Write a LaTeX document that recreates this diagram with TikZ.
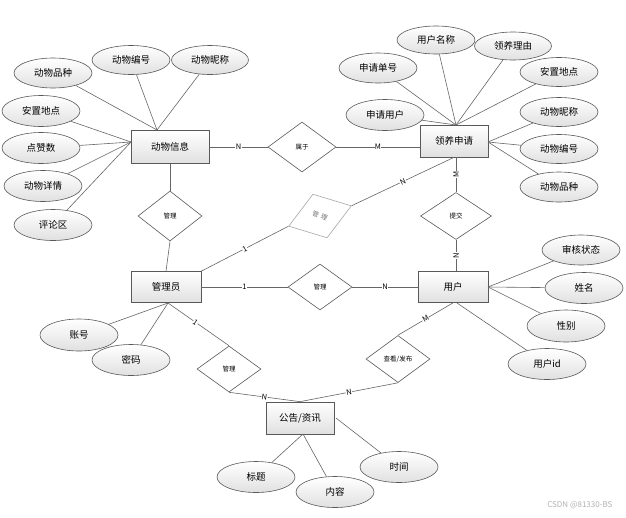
\documentclass[tikz,border=0pt]{standalone}
\usepackage{fontspec}
\setmainfont{Noto Sans CJK SC}
\usetikzlibrary{shapes.geometric}
\tikzset{
 ent/.style={draw=black!65, line width=0.7pt, top color=white, bottom color=black!12, minimum width=70pt, minimum height=32pt, inner sep=0pt, font=\fontsize{9.5}{11}\selectfont},
 attr/.style={ellipse, draw=black!65, line width=0.6pt, top color=white, bottom color=black!12, minimum width=78pt, minimum height=30pt, inner sep=0pt, font=\fontsize{9.5}{11}\selectfont},
 rel/.style={diamond, draw=black!65, line width=0.6pt, fill=white, minimum width=64pt, minimum height=47pt, inner sep=0pt, font=\fontsize{6.5}{7}\selectfont},
 ln/.style={draw=black!60, line width=0.6pt},
 card/.style={fill=white, inner sep=0.4pt, font=\fontsize{7.5}{8}\selectfont},
}
\begin{document}
\begin{tikzpicture}[x=1pt,y=-1pt]
\useasboundingbox[fill=white] (0,0) rectangle (626,517);

% entities
\node[ent, minimum width=78pt, minimum height=33pt] (ai) at (170,147) {动物信息};
\node[ent, minimum width=68pt] (ly) at (454,141) {领养申请};
\node[ent, minimum height=31pt] (gly) at (166,287) {管理员};
\node[ent, minimum height=31pt] (yh) at (453,287) {用户};
\node[ent, minimum width=68pt] (gg) at (300,418) {公告/资讯};

% relationships
\node[rel, minimum width=68pt, minimum height=50pt] (sy) at (302,147) {属于};
\node[rel, minimum height=50pt] (gl1) at (170,216) {管理};
\node[rel, draw=black!35, text=black!55, rotate=18, minimum width=66pt, minimum height=46pt] (gl2) at (320,216) {\rotatebox{-38}{管\hspace{2.5pt}理}};
\node[rel, minimum height=46pt] (gl3) at (320,287) {管理};
\node[rel, minimum width=71pt] (tj) at (456,216) {提交};
\node[rel, minimum height=46pt] (gl4) at (229,369) {管理};
\node[rel] (ck) at (398,359) {查看/发布};

% attributes of 动物信息
\node[attr] (a1) at (53,73) {动物品种};
\node[attr, minimum height=29pt] (a2) at (131,60) {动物编号};
\node[attr, minimum width=77pt, minimum height=29pt] (a3) at (210,60) {动物昵称};
\node[attr, minimum height=31pt] (a4) at (41,111) {安置地点};
\node[attr, minimum height=31pt] (a5) at (41,148) {点赞数};
\node[attr, minimum height=31pt] (a6) at (43,186) {动物详情};
\node[attr, minimum height=31pt] (a7) at (53,225) {评论区};
\coordinate (aiT) at (157,130);
\coordinate (aiL) at (131,142);

% attributes of 领养申请
\node[attr, minimum height=28pt] (b1) at (436,40) {用户名称};
\node[attr, minimum width=77pt, minimum height=28pt] (b2) at (513,46) {领养理由};
\node[attr] (b3) at (378,68) {申请单号};
\node[attr, minimum height=29pt] (b4) at (559,72) {安置地点};
\node[attr, minimum height=31pt] (b5) at (385,115) {申请用户};
\node[attr, minimum height=29pt] (b6) at (559,112) {动物昵称};
\node[attr, minimum height=29pt] (b7) at (559,149) {动物编号};
\node[attr] (b8) at (559,187) {动物品种};
\coordinate (lyT) at (456,125);
\coordinate (lyR) at (488,142);

% attributes of 用户
\node[attr] (c1) at (581,250) {审核状态};
\node[attr, minimum height=31pt] (c2) at (584,288) {姓名};
\node[attr, minimum height=32pt] (c3) at (566,326) {性别};
\node[attr, minimum height=31pt] (c4) at (547,364) {用户id};
\coordinate (yhR) at (488,287);
\coordinate (yhB) at (457,303);

% attributes of 管理员
\node[attr, minimum height=32pt] (d1) at (79,335) {账号};
\node[attr, minimum height=31pt] (d2) at (131,360) {密码};
\coordinate (glyB) at (168,303);

% attributes of 公告/资讯
\node[attr, minimum height=31pt] (e1) at (256,477) {标题};
\node[attr, minimum height=31pt] (e2) at (335,492) {内容};
\node[attr, minimum height=31pt] (e3) at (399,467) {时间};
\coordinate (ggB) at (303,434);
\coordinate (ggR) at (336,418);

% attribute lines
\foreach \a in {a1,a2,a3} \draw[ln] (\a) -- (aiT);
\foreach \a in {a4,a5,a6,a7} \draw[ln] (\a) -- (aiL);
\foreach \a in {b1,b2,b3,b4,b5} \draw[ln] (\a) -- (lyT);
\foreach \a in {b6,b7,b8} \draw[ln] (\a) -- (lyR);
\foreach \a in {c1,c2,c3} \draw[ln] (\a) -- (yhR);
\draw[ln] (c4) -- (yhB);
\foreach \a in {d1,d2} \draw[ln] (\a) -- (glyB);
\foreach \a in {e1,e2} \draw[ln] (\a) -- (ggB);
\draw[ln] (e3) -- (ggR);

% relationship lines
\draw[ln] (ai.east) -- node[card] {N} (sy.west);
\draw[ln] (sy.east) -- node[card] {M} (sy.east -| ly.west);
\draw[ln] (ai.south) -- (gl1.north);
\draw[ln] (gl1.south) -- (gly.north);
\draw[ln] (gly.north east) -- node[card, sloped] {1} (gl2.west);
\draw[ln] (gl2.east) -- node[card, sloped] {N} (ly.south);
\draw[ln] (gly.east) -- node[card] {1} (gl3.west);
\draw[ln] (gl3.east) -- node[card] {N} (yh.west);
\draw[ln] (ly.south -| tj.north) -- node[card, rotate=90] {M} (tj.north);
\draw[ln] (tj.south) -- node[card, rotate=90] {N} (yh.north -| tj.south);
\draw[ln] (glyB) -- node[card, sloped, pos=0.45] {1} (gl4.north);
\draw[ln] (gl4.south) -- node[card, sloped] {N} (gg.north);
\draw[ln] (yh.south) -- node[card, sloped] {M} (ck.north);
\draw[ln] (ck.south) -- node[card, sloped] {N} (gg.north);

% watermark
\node[text=black!30, font=\fontsize{8}{9}\selectfont, anchor=east] (wm) at (616,505) {CSDN @81330-BS};
\end{tikzpicture}
\end{document}
